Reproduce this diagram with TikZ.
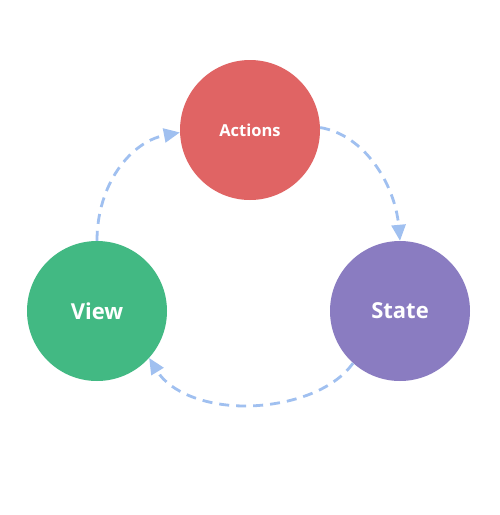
\documentclass[tikz,border=0pt]{standalone}
\usepackage{fontspec}
\setmainfont{Open Sans}
\usetikzlibrary{arrows.meta}
\definecolor{actred}{RGB}{224,100,100}
\definecolor{viewgreen}{RGB}{66,185,131}
\definecolor{statepurple}{RGB}{138,124,193}
\definecolor{flowblue}{RGB}{160,192,240}
\tikzset{
  blob/.style={circle, minimum size=140pt, inner sep=0pt, text=white, font=\bfseries\fontsize{22}{26}\selectfont},
  flow/.style={draw=flowblue, line width=2.8pt, dash pattern=on 10pt off 7pt, -{Triangle[length=16pt,width=14pt]}}
}
\begin{document}
\begin{tikzpicture}[x=1pt,y=-1pt]
\useasboundingbox (0,0) rectangle (499,515);
\fill[white] (0,0) rectangle (499,515);
\node[blob, fill=actred, font=\bfseries\fontsize{16.5}{20}\selectfont] (actions) at (250,130) {Actions};
\node[blob, fill=viewgreen] (view) at (97,311) {View};
\node[blob, fill=statepurple] (state) at (400,311) {State};
\draw[flow] (view.90) .. controls (97,185) and (130,142) .. (actions.182);
\draw[flow] (actions.2) .. controls (365,135) and (395,185) .. (state.90);
\draw[flow] (state.228) .. controls (330,395) and (280,406) .. (245,406) .. controls (205,406) and (170,392) .. (view.318);
\end{tikzpicture}
\end{document}
